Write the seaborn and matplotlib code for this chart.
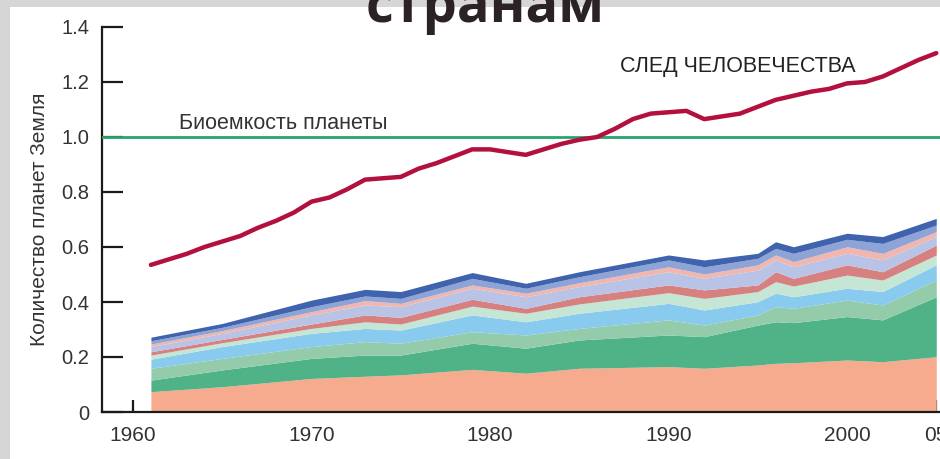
import numpy as np
import pandas as pd
import matplotlib
matplotlib.use("Agg")
import matplotlib.pyplot as plt
from matplotlib.patches import Rectangle
import seaborn as sns

# humanity's footprint, number of planets, 1961-2005
fp_years = list(range(1961, 2006))
footprint = [0.535, 0.555, 0.575, 0.60, 0.62, 0.64, 0.67, 0.695, 0.725, 0.765,
             0.78, 0.81, 0.845, 0.85, 0.855, 0.885, 0.905, 0.93, 0.955, 0.955,
             0.945, 0.935, 0.955, 0.975, 0.99, 1.0, 1.03, 1.065, 1.085, 1.09,
             1.095, 1.065, 1.075, 1.085, 1.11, 1.135, 1.15, 1.165, 1.175, 1.195,
             1.2, 1.22, 1.25, 1.28, 1.305]

biocapacity = 1.0

# stacked footprint by country group (read at selected years)
stack_years = [1961, 1965, 1970, 1973, 1975, 1979, 1982, 1985, 1990, 1992,
               1995, 1996, 1997, 2000, 2002, 2005]
layer_1 = [0.074, 0.092, 0.122, 0.130, 0.135, 0.155, 0.141, 0.159, 0.165, 0.159,
           0.171, 0.177, 0.179, 0.189, 0.183, 0.201]
layer_2 = [0.042, 0.061, 0.073, 0.077, 0.072, 0.095, 0.091, 0.103, 0.115, 0.115,
           0.145, 0.151, 0.146, 0.158, 0.152, 0.218]
layer_3 = [0.043, 0.042, 0.043, 0.049, 0.043, 0.042, 0.048, 0.042, 0.055, 0.042,
           0.037, 0.055, 0.052, 0.060, 0.054, 0.061]
layer_4 = [0.033, 0.043, 0.048, 0.048, 0.048, 0.061, 0.048, 0.055, 0.060, 0.055,
           0.048, 0.049, 0.042, 0.043, 0.049, 0.055]
layer_5 = [0.015, 0.014, 0.018, 0.024, 0.022, 0.032, 0.031, 0.034, 0.039, 0.042,
           0.037, 0.042, 0.039, 0.048, 0.042, 0.036]
layer_6 = [0.012, 0.012, 0.016, 0.025, 0.024, 0.025, 0.018, 0.026, 0.028, 0.031,
           0.024, 0.036, 0.028, 0.037, 0.030, 0.036]
layer_7 = [0.019, 0.022, 0.033, 0.036, 0.039, 0.040, 0.042, 0.037, 0.048, 0.042,
           0.054, 0.043, 0.042, 0.042, 0.043, 0.031]
layer_8 = [0.009, 0.010, 0.012, 0.016, 0.012, 0.012, 0.013, 0.014, 0.018, 0.016,
           0.019, 0.018, 0.019, 0.024, 0.024, 0.018]
layer_9 = [0.012, 0.012, 0.018, 0.017, 0.018, 0.024, 0.018, 0.022, 0.025, 0.026,
           0.024, 0.024, 0.030, 0.027, 0.036, 0.024]
layer_10 = [0.013, 0.014, 0.024, 0.024, 0.025, 0.021, 0.018, 0.018, 0.018, 0.025,
            0.018, 0.024, 0.024, 0.022, 0.025, 0.024]

layer_colors = ['#f6aa8e', '#4fb387', '#93cbab', '#89caef', '#c5e5d5',
                '#d6807f', '#b9c3e5', '#efb7af', '#8ea3d6', '#3f63ad']

x_ticks = [1960, 1970, 1980, 1990, 2000, 2005]
x_labels = ['1960', '1970', '1980', '1990', '2000', '05']
y_ticks = [0, 0.2, 0.4, 0.6, 0.8, 1.0, 1.2, 1.4]
y_labels = ['0', '0.2', '0.4', '0.6', '0.8', '1.0', '1.2', '1.4']

sns.set_theme(style="white")
plt.rcParams['font.family'] = ['Liberation Sans', 'DejaVu Sans']

fig = plt.figure(figsize=(9.4, 4.59), dpi=100)
fig.patch.set_facecolor('white')

# grey slide border (left and top)
fig.patches.append(Rectangle((0, 0), 10 / 940, 1, transform=fig.transFigure,
                             facecolor='#d6d6d6', edgecolor='none', zorder=0))
fig.patches.append(Rectangle((0, 1 - 7 / 459), 1, 7 / 459, transform=fig.transFigure,
                             facecolor='#d6d6d6', edgecolor='none', zorder=0))

ax = fig.add_axes([102 / 940, 47 / 459, 858 / 940, 385 / 459])

layers = [layer_1, layer_2, layer_3, layer_4, layer_5,
          layer_6, layer_7, layer_8, layer_9, layer_10]
ax.stackplot(stack_years, *layers, colors=layer_colors, linewidth=0)

ax.axhline(biocapacity, color='#27a56b', lw=2.0, zorder=3)

df = pd.DataFrame({'year': fp_years, 'footprint': footprint})
sns.lineplot(data=df, x='year', y='footprint', ax=ax, color='#b3103d',
             lw=3.2, zorder=4)

ax.text(1962.6, 1.05, 'Биоемкость планеты', fontsize=15.5, color='#333333',
        va='center', ha='left')
ax.text(1987.3, 1.255, 'СЛЕД ЧЕЛОВЕЧЕСТВА', fontsize=15.5, color='#222222',
        va='center', ha='left')

ax.set_xlim(1958.26, 2006.33)
ax.set_ylim(0, 1.4)
ax.set_xticks(x_ticks)
ax.set_xticklabels(x_labels)
ax.set_yticks(y_ticks)
ax.set_yticklabels(y_labels)
ax.set_xlabel('')
ax.set_ylabel('Количество планет Земля', fontsize=15, color='#333333', labelpad=9)

for s in ['top', 'right']:
    ax.spines[s].set_visible(False)
for s in ['left', 'bottom']:
    ax.spines[s].set_color('#1a1a1a')
    ax.spines[s].set_linewidth(1.6)

ax.tick_params(axis='y', direction='in', length=15, width=1.6, color='#1a1a1a',
               labelsize=14.5, labelcolor='#333333', pad=9, left=True)
ax.tick_params(axis='x', direction='in', length=9, width=1.6, color='#1a1a1a',
               labelsize=15, labelcolor='#333333', pad=10, bottom=True)

fig.text(0.516, 1 - 22 / 459, 'странам', fontsize=39, fontweight='bold',
         family=['Open Sans', 'DejaVu Sans'], color='#2b2224',
         ha='center', va='baseline')

fig.savefig('out.png', dpi=100)
